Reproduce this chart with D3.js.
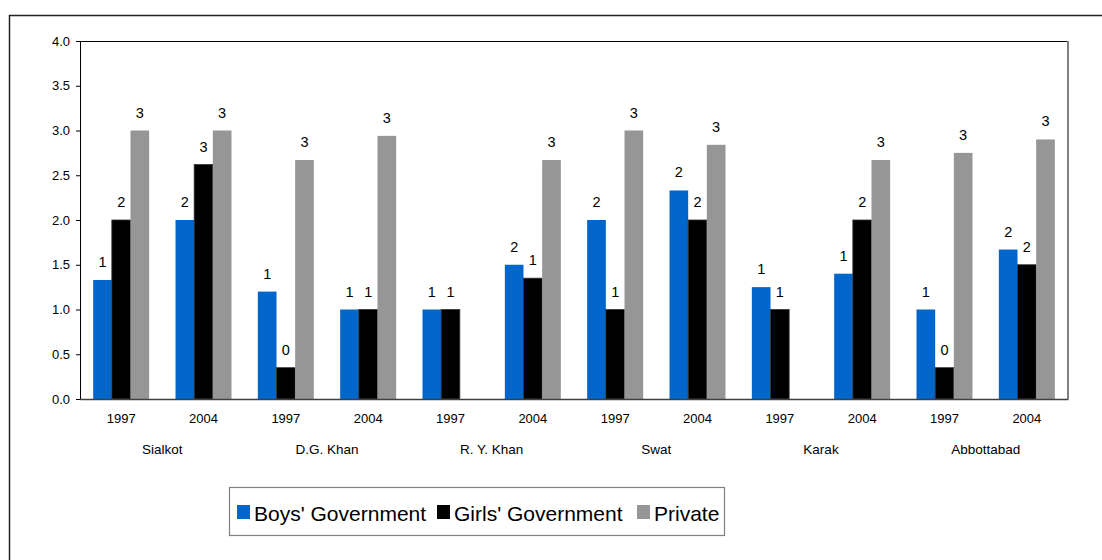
<!DOCTYPE html>
<html>
<head>
<meta charset="utf-8">
<script src="https://cdn.jsdelivr.net/npm/d3@7/dist/d3.min.js"></script>
<style>
  html, body { margin: 0; padding: 0; background: #fff; }
  svg { display: block; font-family: "Liberation Sans", Arial, sans-serif; }
</style>
</head>
<body>
<svg id="chart" width="1102" height="560"></svg>
<script>
// Districts, each surveyed in two years
const districts = ["Sialkot", "D.G. Khan", "R. Y. Khan", "Swat", "Karak", "Abbottabad"];
const years = ["1997", "2004"];

// One value per district/year pair, in district order (null = no bar)
const boysGov  = [1.33, 2.0, 1.2, 1.0, 1.0, 1.5, 2.0, 2.33, 1.25, 1.4, 1.0, 1.67];
const girlsGov = [2.0, 2.62, 0.35, 1.0, 1.0, 1.35, 1.0, 2.0, 1.0, 2.0, 0.35, 1.5];
const privateS = [3.0, 3.0, 2.67, 2.94, null, 2.67, 3.0, 2.84, null, 2.67, 2.75, 2.9];

const seriesNames  = ["Boys' Government", "Girls' Government", "Private"];
const seriesColors = ["#0066CC", "#000000", "#969696"];
const yTicks = [0, 0.5, 1.0, 1.5, 2.0, 2.5, 3.0, 3.5, 4.0];

const seriesValues = [boysGov, girlsGov, privateS];
const categories = [];
districts.forEach(d => years.forEach(y => categories.push({ district: d, year: y, key: d + "|" + y })));

const svg = d3.select("#chart");

// Outer chart frame
svg.append("rect")
  .attr("x", 9.5).attr("y", 15.5)
  .attr("width", 1200).attr("height", 700)
  .attr("fill", "none").attr("stroke", "#222").attr("stroke-width", 1.5);

const plot = { left: 80, right: 1068, top: 41, bottom: 399 };

const x = d3.scaleBand()
  .domain(categories.map(c => c.key))
  .range([plot.left, plot.right])
  .paddingInner(0).paddingOuter(0);

const groupWidth = x.bandwidth() * 0.68;
const xs = d3.scaleBand()
  .domain(seriesNames)
  .range([(x.bandwidth() - groupWidth) / 2, (x.bandwidth() + groupWidth) / 2])
  .padding(0);

const y = d3.scaleLinear().domain([0, 4]).range([plot.bottom, plot.top]);

// Plot area border: top black, right grey
svg.append("line")
  .attr("x1", plot.left).attr("x2", plot.right)
  .attr("y1", plot.top + 0.5).attr("y2", plot.top + 0.5)
  .attr("stroke", "#000").attr("stroke-width", 1);
svg.append("line")
  .attr("x1", plot.right).attr("x2", plot.right)
  .attr("y1", plot.top).attr("y2", plot.bottom)
  .attr("stroke", "#808080").attr("stroke-width", 2);

// Bars
const bars = svg.append("g");
seriesNames.forEach((name, si) => {
  const data = categories.map((c, i) => ({ key: c.key, value: seriesValues[si][i] }))
    .filter(d => d.value !== null);
  bars.selectAll(null)
    .data(data)
    .join("rect")
    .attr("x", d => x(d.key) + xs(name))
    .attr("y", d => y(d.value))
    .attr("width", xs.bandwidth())
    .attr("height", d => y(0) - y(d.value))
    .attr("fill", seriesColors[si])
    .attr("stroke", si === 1 ? "#333" : "none")
    .attr("stroke-width", si === 1 ? 0.8 : 0);

  // Value labels, rounded to whole numbers
  bars.selectAll(null)
    .data(data)
    .join("text")
    .attr("x", d => x(d.key) + xs(name) + xs.bandwidth() / 2)
    .attr("y", d => y(d.value) - 13)
    .attr("text-anchor", "middle")
    .attr("font-size", 14.5)
    .attr("fill", "#000")
    .text(d => d3.format(".0f")(d.value));
});

// Value axis
const yAxis = d3.axisLeft(y)
  .tickValues(yTicks)
  .tickFormat(d3.format(".1f"))
  .tickSize(4)
  .tickPadding(6);
const gy = svg.append("g")
  .attr("transform", `translate(${plot.left},0)`)
  .call(yAxis);
gy.select(".domain").attr("stroke", "#000");
gy.selectAll(".tick line").attr("stroke", "#000");
gy.selectAll(".tick text").attr("font-size", 13).attr("font-family", "Liberation Sans, Arial, sans-serif").attr("fill", "#000");

// Category axis: years, then districts beneath
const xAxis = d3.axisBottom(x)
  .tickSize(0)
  .tickPadding(15)
  .tickFormat(k => k.split("|")[1]);
const gx = svg.append("g")
  .attr("transform", `translate(0,${plot.bottom})`)
  .call(xAxis);
gx.select(".domain").attr("stroke", "#404040").attr("stroke-width", 1.5);
gx.selectAll(".tick text").attr("font-size", 13).attr("font-family", "Liberation Sans, Arial, sans-serif").attr("fill", "#000");

svg.append("g").selectAll("text")
  .data(districts)
  .join("text")
  .attr("x", d => x(d + "|1997") + x.bandwidth())
  .attr("y", 454)
  .attr("text-anchor", "middle")
  .attr("font-size", 13.5)
  .attr("fill", "#000")
  .text(d => d);

// Legend
const legend = svg.append("g");
legend.append("rect")
  .attr("x", 229.5).attr("y", 487.5)
  .attr("width", 495).attr("height", 48)
  .attr("fill", "#fff").attr("stroke", "#808080").attr("stroke-width", 1.2);
const legendX = [237, 437, 637];
seriesNames.forEach((name, i) => {
  legend.append("rect")
    .attr("x", legendX[i]).attr("y", 505)
    .attr("width", 13).attr("height", 14)
    .attr("fill", seriesColors[i]);
  legend.append("text")
    .attr("x", legendX[i] + 17).attr("y", 520.5)
    .attr("font-size", 21)
    .attr("fill", "#000")
    .text(name);
});
</script>
</body>
</html>
